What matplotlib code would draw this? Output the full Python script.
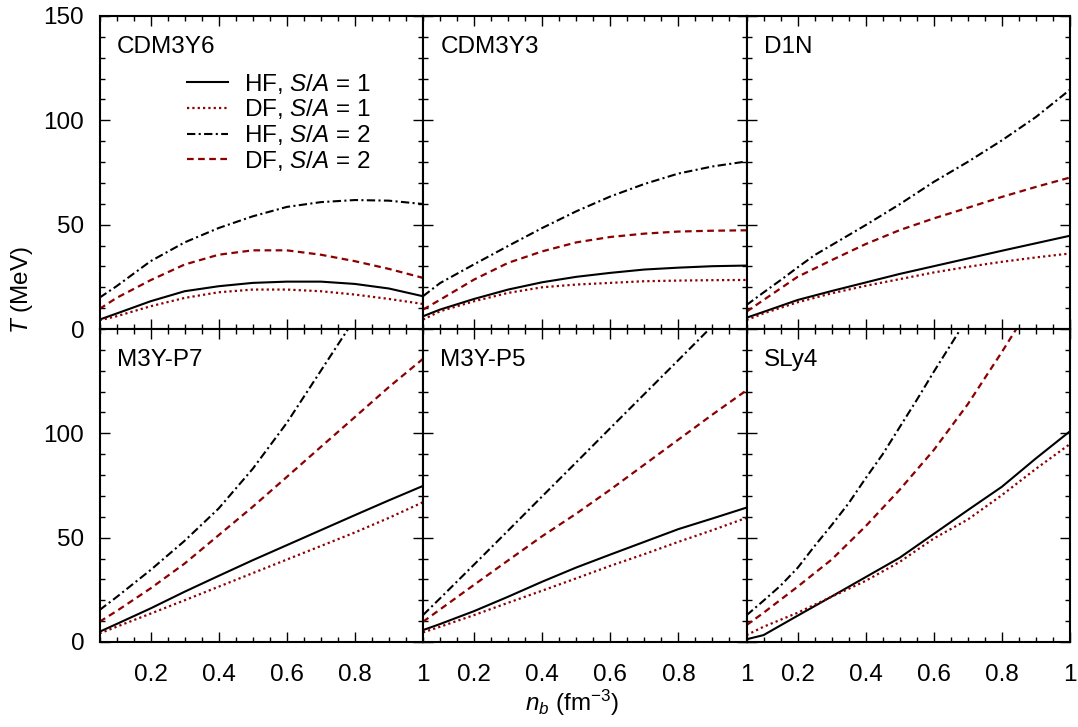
import matplotlib
matplotlib.use("Agg")
import matplotlib.pyplot as plt
from matplotlib.ticker import MultipleLocator, FuncFormatter

plt.rcParams['font.family'] = ['Liberation Sans', 'DejaVu Sans']
plt.rcParams['mathtext.fontset'] = 'custom'
plt.rcParams['mathtext.rm'] = 'Liberation Sans'
plt.rcParams['mathtext.it'] = 'Liberation Sans:italic'
plt.rcParams['mathtext.bf'] = 'Liberation Sans:bold'

# ---------------- data ----------------
n_grid = [0.05, 0.1, 0.2, 0.3, 0.4, 0.5, 0.6, 0.7, 0.8, 0.9, 1.0]

# CDM3Y6
cdm3y6_hf1 = [4.5, 7.4, 13.3, 18.1, 20.5, 22.1, 22.7, 22.7, 21.6, 19.4, 15.7]
cdm3y6_df1 = [4.2, 6.1, 10.9, 14.9, 17.6, 18.9, 18.9, 18.1, 16.5, 14.4, 12.0]
cdm3y6_hf2 = [15.0, 20.5, 32.5, 41.5, 48.4, 54.0, 58.5, 60.8, 61.8, 61.5, 59.9]
cdm3y6_df2 = [9.6, 14.9, 23.4, 30.9, 35.6, 37.7, 37.7, 35.6, 32.5, 28.8, 24.5]

# CDM3Y3
cdm3y3_hf1 = [6.1, 9.3, 14.4, 18.9, 22.4, 25.0, 26.9, 28.5, 29.4, 30.1, 30.4]
cdm3y3_df1 = [4.5, 8.5, 13.3, 17.3, 20.0, 21.3, 22.1, 22.9, 23.2, 23.4, 23.5]
cdm3y3_hf2 = [15.7, 22.0, 31.0, 39.8, 48.4, 56.4, 63.5, 69.5, 74.5, 77.9, 80.3]
cdm3y3_df2 = [9.3, 14.0, 23.7, 31.7, 37.2, 41.5, 44.1, 45.7, 46.7, 47.1, 47.3]

# D1N
d1n_hf1 = [5.4, 8.2, 13.9, 18.2, 22.3, 26.4, 30.1, 33.8, 37.5, 41.1, 44.7]
d1n_df1 = [4.3, 7.5, 12.8, 17.1, 20.7, 23.9, 27.1, 29.8, 32.2, 34.3, 36.2]
d1n_n_hf2 = [0.05, 0.1, 0.15, 0.2, 0.25, 0.3, 0.4, 0.5, 0.6, 0.7, 0.8, 0.9, 1.0]
d1n_hf2 = [11.5, 17.5, 23.4, 29.5, 35.4, 40.2, 49.8, 59.8, 70.5, 80.1, 90.4, 101.6, 114.7]
d1n_df2 = [8.3, 13.9, 25.0, 33.0, 40.7, 47.4, 53.0, 58.1, 63.3, 68.1, 72.6]

# M3Y-P7
m3yp7_hf1 = [4.9, 8.6, 16.1, 24.1, 31.7, 39.2, 46.4, 53.6, 60.8, 67.9, 74.8]
m3yp7_df1 = [4.1, 7.3, 13.6, 20.0, 26.5, 33.0, 39.5, 46.0, 52.5, 59.5, 67.0]
m3yp7_n_hf2 = [0.05, 0.1, 0.2, 0.3, 0.4, 0.5, 0.6, 0.7, 0.8]
m3yp7_hf2 = [15.3, 21.5, 34.5, 48.5, 64.0, 83.0, 105.0, 130.0, 155.0]
m3yp7_df2 = [9.7, 14.8, 25.7, 37.6, 51.2, 64.8, 79.1, 93.5, 107.8, 122.2, 135.7]

# M3Y-P5
m3yp5_hf1 = [5.7, 8.6, 14.8, 21.7, 28.9, 35.7, 41.9, 48.0, 54.1, 59.2, 64.4]
m3yp5_df1 = [4.6, 7.3, 12.9, 18.8, 24.6, 30.5, 36.5, 42.1, 48.0, 53.6, 59.5]
m3yp5_n_hf2 = [0.05, 0.1, 0.2, 0.3, 0.4, 0.5, 0.6, 0.7, 0.8, 0.9]
m3yp5_hf2 = [12.9, 20.9, 37.1, 53.4, 69.8, 86.1, 102.5, 118.8, 135.1, 151.5]
m3yp5_df2 = [9.7, 15.6, 27.4, 39.1, 50.7, 61.5, 73.0, 85.0, 97.0, 109.0, 120.6]

# SLy4
sly4_hf1 = [1.3, 3.3, 12.6, 21.8, 31.1, 40.4, 51.8, 63.2, 74.4, 88.0, 101.0]
sly4_df1 = [3.3, 7.3, 14.0, 21.7, 29.3, 38.4, 49.6, 58.7, 70.4, 83.0, 94.9]
sly4_n_hf2 = [0.05, 0.1, 0.15, 0.2, 0.25, 0.3, 0.35, 0.4, 0.45, 0.5, 0.55, 0.6, 0.65, 0.7]
sly4_hf2 = [12.8, 19.8, 27.0, 35.5, 46.0, 56.0, 66.5, 78.5, 90.0, 103.0, 116.0, 129.5, 142.5, 155.5]
sly4_n_df2 = [0.05, 0.1, 0.2, 0.3, 0.4, 0.5, 0.6, 0.7, 0.8, 0.85]
sly4_df2 = [8.1, 14.0, 26.5, 39.5, 55.5, 73.0, 92.0, 114.0, 139.0, 152.0]

panel_names = ["CDM3Y6", "CDM3Y3", "D1N", "M3Y-P7", "M3Y-P5", "SLy4"]
panels = [
    [(n_grid, cdm3y6_hf1), (n_grid, cdm3y6_df1), (n_grid, cdm3y6_hf2), (n_grid, cdm3y6_df2)],
    [(n_grid, cdm3y3_hf1), (n_grid, cdm3y3_df1), (n_grid, cdm3y3_hf2), (n_grid, cdm3y3_df2)],
    [(n_grid, d1n_hf1), (n_grid, d1n_df1), (d1n_n_hf2, d1n_hf2), (n_grid, d1n_df2)],
    [(n_grid, m3yp7_hf1), (n_grid, m3yp7_df1), (m3yp7_n_hf2, m3yp7_hf2), (n_grid, m3yp7_df2)],
    [(n_grid, m3yp5_hf1), (n_grid, m3yp5_df1), (m3yp5_n_hf2, m3yp5_hf2), (n_grid, m3yp5_df2)],
    [(n_grid, sly4_hf1), (n_grid, sly4_df1), (sly4_n_hf2, sly4_hf2), (sly4_n_df2, sly4_df2)],
]
series_labels = ["HF, $S/A$ = 1", "DF, $S/A$ = 1", "HF, $S/A$ = 2", "DF, $S/A$ = 2"]

# ---------------- styles ----------------
RED = "#8b0000"
styles = [
    dict(color="black", linestyle="-", lw=1.5),
    dict(color=RED, linestyle=(0, (1, 1.4)), lw=1.6),
    dict(color="black", linestyle=(0, (4, 1.6, 1, 1.6)), lw=1.5),
    dict(color=RED, linestyle=(0, (3, 2)), lw=1.6),
]

FS = 17.5
W, H = 1078, 727
fig = plt.figure(figsize=(W / 100, H / 100), dpi=100)
left, right = 99.5 / W, 1070 / W
top, bottom = 1 - 16 / H, 1 - 642 / H
gs = fig.add_gridspec(2, 3, left=left, right=right, top=top, bottom=bottom,
                      wspace=0, hspace=0)

fmt = FuncFormatter(lambda v, p: "%g" % v)

for i in range(6):
    r, c = divmod(i, 3)
    ax = fig.add_subplot(gs[r, c])
    handles = []
    for (xs, ys), st, lab in zip(panels[i], styles, series_labels):
        h, = ax.plot(xs, ys, label=lab, **st)
        handles.append(h)
    ax.set_xlim(0.05, 1.0)
    ax.set_ylim(0, 150)
    ax.set_xticks([0.2, 0.4, 0.6, 0.8, 1.0])
    ax.xaxis.set_minor_locator(MultipleLocator(0.05))
    if r == 1 and c == 0:
        ax.set_yticks([0, 50, 100])
    else:
        ax.yaxis.set_major_locator(MultipleLocator(50))
    ax.yaxis.set_minor_locator(MultipleLocator(10))
    ax.set_ylim(0, 150)
    ax.xaxis.set_major_formatter(fmt)
    ax.yaxis.set_major_formatter(fmt)
    ax.tick_params(which="both", direction="in", top=True, right=True,
                   labelsize=FS, width=1.0)
    ax.tick_params(which="major", length=7.2)
    ax.tick_params(which="minor", length=3.6)
    ax.tick_params(axis="x", pad=15.5)
    ax.tick_params(axis="y", pad=11)
    for sp in ax.spines.values():
        sp.set_linewidth(1.5)
    if r == 0:
        ax.tick_params(labelbottom=False)
    if c != 0:
        ax.tick_params(labelleft=False)
    ax.text(0.054, 0.9, panel_names[i], transform=ax.transAxes,
            fontsize=FS, ha="left", va="center")
    if i == 0:
        ax.legend(handles=handles, loc="upper left", bbox_to_anchor=(0.2705, 0.822),
                  frameon=False, fontsize=FS, handlelength=1.69, handletextpad=0.66,
                  labelspacing=0.07, borderpad=0, borderaxespad=0)

fig.text(22 / W, 1 - 290 / H, "$T$ (MeV)", rotation=90, fontsize=FS,
         ha="center", va="center")
fig.text(572 / W, 1 - 703 / H, "$n_b$ (fm$^{-3}$)", fontsize=FS,
         ha="center", va="center")

fig.savefig("out.png", dpi=100)
